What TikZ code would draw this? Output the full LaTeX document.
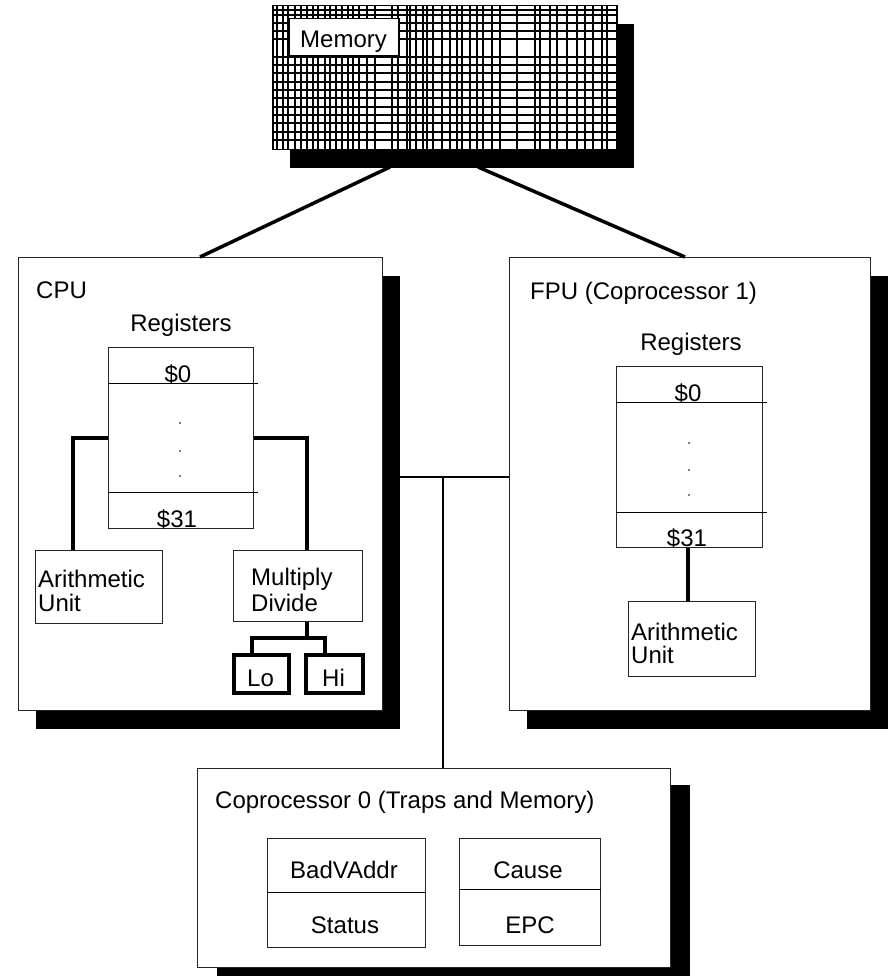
\documentclass[tikz,border=0pt]{standalone}
\usepackage{fontspec}
\setmainfont{Liberation Sans}
\usetikzlibrary{shadows,calc}
\begin{document}
\begin{tikzpicture}[x=1pt,y=-1pt,
  box/.style={draw=black!85, line width=1pt, fill=white, inner sep=0pt, anchor=north west},
  shbox/.style={box, drop shadow={shadow xshift=17pt, shadow yshift=-18pt, fill=black, opacity=1}},
  lbl/.style={inner sep=0pt, font=\fontsize{24}{28}\selectfont},
  gridline/.style={line width=1.8pt, black},
  sep/.style={line width=1pt, black},
  link/.style={line width=3.5pt, black},
  reglink/.style={line width=4.8pt, black, line join=miter},
  lohilink/.style={line width=3.5pt, black, line join=miter},
  bus/.style={line width=2pt, black},
  regdot/.style={circle, fill=black, inner sep=0pt, minimum size=1.6pt}]
\useasboundingbox (0,0) rectangle (891,976);
\clip (0,0) rectangle (891,976);

% ---------------- Memory ----------------
\node[box, line width=1.5pt, draw=black, minimum width=344pt, minimum height=144pt,
  drop shadow={shadow xshift=17pt, shadow yshift=-18pt, fill=black, opacity=1}] (mem) at (272,5) {};
\foreach \x in {277,283,288,295,301,307,313,318,325,330,336,342,348,353,359,367,375,392,398,407,410,416,423,427,433,442,450,457,462,470,477,483,492,500,517,535,540,550,557,567,577,585,593,602,607}
  \draw[gridline] (\x,5) -- (\x,149);
\foreach \y in {10,15,23,31,39,57,65,73,82,90,98,107,115,123,132,140}
  \draw[gridline] (272,\y) -- (616,\y);
\node[box, line width=1.5pt, draw=black, minimum width=110pt, minimum height=37pt] (memlbl) at (288,18) {};
\node[lbl, anchor=base west] (memtxt) at (300,48) {Memory};

% ---------------- CPU ----------------
\node[shbox, minimum width=364pt, minimum height=453pt] (cpu) at (18,257) {};
\node[lbl, anchor=base west] (cputxt) at (36,298) {CPU};
\node[lbl, anchor=base] (cpureg) at (181,331) {Registers};
\node[box, minimum width=145pt, minimum height=181pt] (regA) at (108,347) {};
\draw[sep] ($(regA.north west)+(0,36)$) -- ++(150,0);
\draw[sep] ($(regA.north west)+(0,145)$) -- ++(150,0);
\node[lbl, anchor=base] (r0a) at (178,382) {\$0};
\node[lbl, anchor=base] (r31a) at (177,527) {\$31};
\node[regdot] (da1) at (180,423) {};
\node[regdot] (da2) at (180,451) {};
\node[regdot] (da3) at (180,476) {};

\node[box, minimum width=127pt, minimum height=73pt] (au1) at (35,550) {};
\node[lbl, anchor=base west] (au1a) at (38,587) {Arithmetic};
\node[lbl, anchor=base west] (au1b) at (38,611) {Unit};
\node[box, minimum width=129pt, minimum height=71pt] (md) at (233,550) {};
\node[lbl, anchor=base west] (mda) at (251,585) {Multiply};
\node[lbl, anchor=base west] (mdb) at (251,611) {Divide};

\node[box, line width=3.5pt, draw=black, minimum width=55pt, minimum height=38pt] (lo) at (232,653) {};
\node[box, line width=3.5pt, draw=black, minimum width=57pt, minimum height=38pt] (hi) at (304,653) {};
\node[lbl, anchor=base west] (lotxt) at (247,686) {Lo};
\node[lbl, anchor=base west] (hitxt) at (322,686) {Hi};

\draw[reglink] ($(regA.north west)+(0,91)$) -| ($(au1.north west)+(38,0)$);
\draw[reglink] ($(regA.north east)+(0,91)$) -| ($(md.north west)+(74,0)$);
\draw[lohilink] ($(md.south west)+(74,0)$) -- ++(0,16) coordinate (split);
\draw[lohilink] ($(lo.north west)+(20,0)$) |- (split) -| ($(hi.north west)+(21,0)$);

% ---------------- FPU ----------------
\node[shbox, minimum width=361pt, minimum height=453pt] (fpu) at (509,257) {};
\node[lbl, anchor=base west] (fputxt) at (530,299) {FPU (Coprocessor 1)};
\node[lbl, anchor=base] (fpureg) at (691,350) {Registers};
\node[box, minimum width=146pt, minimum height=181pt] (regB) at (616,366) {};
\draw[sep] ($(regB.north west)+(0,36)$) -- ++(151,0);
\draw[sep] ($(regB.north west)+(0,146)$) -- ++(151,0);
\node[lbl, anchor=base] (r0b) at (688,401) {\$0};
\node[lbl, anchor=base] (r31b) at (687,546) {\$31};
\node[regdot] (db1) at (689,443) {};
\node[regdot] (db2) at (689,470) {};
\node[regdot] (db3) at (689,495) {};
\node[box, minimum width=127pt, minimum height=75pt] (au2) at (628,601) {};
\node[lbl, anchor=base west] (au2a) at (631,640) {Arithmetic};
\node[lbl, anchor=base west] (au2b) at (631,663) {Unit};
\draw[line width=4pt] ($(regB.south west)+(72,0)$) -- ($(au2.north west)+(60,0)$);

% ---------------- Coprocessor 0 ----------------
\node[box, minimum width=473pt, minimum height=199pt,
  drop shadow={shadow xshift=19pt, shadow yshift=-16pt, fill=black, opacity=1}] (cop) at (197,768) {};
\node[lbl, anchor=base west] (coptxt) at (215,808) {Coprocessor 0 (Traps and Memory)};
\node[box, minimum width=158pt, minimum height=109pt] (bs) at (267,838) {};
\draw[sep] ($(bs.north west)+(0,54)$) -- ($(bs.north east)+(0,54)$);
\node[lbl, anchor=base] (bva) at (344,878) {BadVAddr};
\node[lbl, anchor=base] (sta) at (345,933) {Status};
\node[box, minimum width=141pt, minimum height=107pt] (ce) at (459,838) {};
\draw[sep] ($(ce.north west)+(0,51)$) -- ($(ce.north east)+(0,51)$);
\node[lbl, anchor=base] (cau) at (528,878) {Cause};
\node[lbl, anchor=base] (epc) at (530,933) {EPC};

% ---------------- Connectors ----------------
\coordinate (memL) at (390,167);
\coordinate (memR) at (478,167);
\draw[link] (memL) -- ($(cpu.north west)+(182,0)$);
\draw[link] (memR) -- ($(fpu.north west)+(176,0)$);

\coordinate (busL) at (399,477);
\coordinate (busJ) at (443,477);
\draw[bus] (busL) -- (fpu.west |- busL);
\draw[bus] (busJ) -- (cop.north -| busJ);
\end{tikzpicture}
\end{document}
